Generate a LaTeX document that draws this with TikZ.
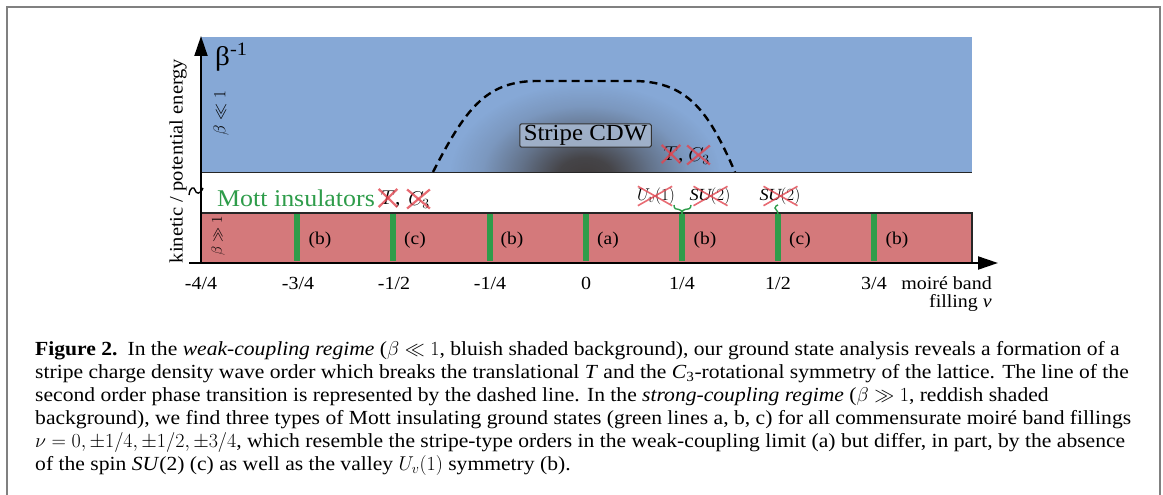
\documentclass[tikz,border=0pt]{standalone}
\usepackage{fix-cm}
\usepackage{fontspec}
\setmainfont{Liberation Serif}[FakeStretch=1.08]
\usetikzlibrary{arrows.meta,fadings}
\definecolor{bgblue}{RGB}{134,168,214}
\definecolor{bgred}{RGB}{212,121,123}
\definecolor{mgreen}{RGB}{46,156,74}
\definecolor{xred}{RGB}{226,70,80}
\definecolor{framegray}{RGB}{128,128,128}
\definecolor{cdwfill}{RGB}{165,182,206}
\definecolor{blobdark}{RGB}{64,60,60}
\pgfdeclareradialshading{blobmask}{\pgfpointorigin}{%
  color(0bp)=(pgftransparent!0);
  color(5bp)=(pgftransparent!8);
  color(12bp)=(pgftransparent!50);
  color(19bp)=(pgftransparent!85);
  color(25bp)=(pgftransparent!100);
  color(50bp)=(pgftransparent!100)}
\pgfdeclarefading{blobfade}{\pgfuseshading{blobmask}}
\tikzset{
  captext/.style={anchor=base west, inner sep=0pt, font=\fontsize{20}{23}\selectfont},
  ticktext/.style={font=\fontsize{18.5}{21}\selectfont, inner sep=0pt},
  plabel/.style={font=\fontsize{18}{20}\selectfont, inner sep=0pt},
  gline/.style={mgreen, line width=6pt},
  xline/.style={xred, line width=2.2pt, opacity=0.8},
  sym/.style={inner sep=0pt, font=\fontsize{20}{24}\selectfont},
  symsm/.style={inner sep=0pt, font=\fontsize{17}{20}\selectfont},
  squig/.style={mgreen, line width=1.4pt},
}
\begin{document}
\begin{tikzpicture}[x=1pt,y=-1pt]
\useasboundingbox (0,0) rectangle (1163,495);
% frame
\draw[framegray, line width=2pt] (7,495) -- (7,7) -- (1160,7) -- (1160,495);
% regions
\fill[bgblue] (201,37) rectangle (972,172);
\begin{scope}
  \clip (201,37) rectangle (972,172);
  \fill[blobdark, path fading=blobfade] (585,176) ellipse [x radius=135, y radius=92];
\end{scope}
\draw[black!85, line width=1.2pt] (201,172.5) -- (972,172.5);
\fill[bgred] (201,213) rectangle (972,262);
\draw[black!85, line width=1.2pt] (201,213) -- (972,213) -- (972,262);
% dashed transition line
\draw[black, line width=2.4pt, dash pattern=on 8pt off 5pt]
  (433,172) .. controls (465,110) and (485,82) .. (535,81) -- (635,81)
  .. controls (690,82) and (710,115) .. (735,172);
% green lines
\foreach \i/\x in {1/297.2,2/393.4,3/489.6,4/585.8,5/682,6/778.2,7/874.4}{
  \draw[gline] (\x,214) -- (\x,261);
}
% labels in red region
\node[plabel] (lb1) at (320,240) {(b)};
\node[plabel] (lb2) at (415,240) {(c)};
\node[plabel] (lb3) at (512,240) {(b)};
\node[plabel] (lb4) at (608,240) {(a)};
\node[plabel] (lb5) at (705,240) {(b)};
\node[plabel] (lb6) at (800,240) {(c)};
\node[plabel] (lb7) at (897,240) {(b)};
% axes
\coordinate (yo) at (201,263);
\coordinate (ytop) at (201,36);
\coordinate (xo) at (189,263);
\coordinate (xend) at (998,263);
\draw[line width=2pt, -{Triangle[length=20pt,width=13pt]}] (yo) -- (ytop);
\draw[line width=2pt, -{Triangle[length=20pt,width=13pt]}] (xo) -- (xend);
% axis break squiggle
\draw[black, line width=1.4pt] (189,195) .. controls (190,187) and (194,186) .. (195,190)
  .. controls (196,194) and (200,195) .. (203,188);
% tick labels
\node[ticktext] (t0) at (201,283) {-4/4};
\node[ticktext] (t1) at (298,283) {-3/4};
\node[ticktext] (t2) at (394,283) {-1/2};
\node[ticktext] (t3) at (490,283) {-1/4};
\node[ticktext] (t4) at (586,283) {0};
\node[ticktext] (t5) at (682,283) {1/4};
\node[ticktext] (t6) at (778,283) {1/2};
\node[ticktext] (t7) at (874,283) {3/4};
\node[ticktext, anchor=east] (xl1) at (992,283) {moiré band};
\node[ticktext, anchor=east] (xl2) at (992,303) {filling \textit{ν}};
% y labels
\node[ticktext, rotate=90, font=\fontsize{19}{22}\selectfont] (ylab) at (178,161) {kinetic / potential energy};
\node[inner sep=0pt, anchor=west, font=\fontsize{27}{30}\selectfont] (binv) at (215,57) {β\textsuperscript{-1}};
\node[symsm, rotate=90] (bweak) at (221,113) {$\beta\ll1$};
\node[symsm, rotate=90, font=\fontsize{15}{18}\selectfont] (bstrong) at (218,236) {$\beta\gg1$};
% Stripe CDW
\node[draw=black!80, line width=1pt, fill=cdwfill, fill opacity=0.9, text opacity=1, rounded corners=1.5pt,
  inner xsep=4pt, inner ysep=1.5pt, font=\fontsize{23}{26}\selectfont] (cdw) at (585.5,135.5) {Stripe CDW};
\node[sym] (cT) at (671,154) {$T$};
\node[sym, anchor=base west] (cc) at (678,160) {,};
\node[sym] (cC) at (699,156) {$C_3$};
\draw[xline] ([shift={(-2,-2)}]cT.north west) -- ([shift={(2,2)}]cT.south east);
\draw[xline] ([shift={(2,-2)}]cT.north east) -- ([shift={(-2,2)}]cT.south west);
\draw[xline] ([shift={(-1,-2)}]cC.north west) -- ([shift={(0,0)}]cC.south east);
\draw[xline] ([shift={(0,-2)}]cC.north east) -- ([shift={(-1,0)}]cC.south west);
% Mott insulators
\node[inner sep=0pt, anchor=west, text=mgreen, font=\fontsize{24}{28}\selectfont] (mott) at (217,198) {Mott insulators};
\node[sym] (mT) at (388,198) {$T$};
\node[sym, anchor=base west] (mc) at (395,204) {,};
\node[sym] (mC) at (419,200) {$C_3$};
\draw[xline] ([shift={(-2,-2)}]mT.north west) -- ([shift={(2,2)}]mT.south east);
\draw[xline] ([shift={(2,-2)}]mT.north east) -- ([shift={(-2,2)}]mT.south west);
\draw[xline] ([shift={(-1,-2)}]mC.north west) -- ([shift={(0,0)}]mC.south east);
\draw[xline] ([shift={(0,-2)}]mC.north east) -- ([shift={(-1,0)}]mC.south west);
% broken symmetries at 1/4 and 1/2
\node[symsm] (uv) at (656,196) {$U_v(1)$};
\node[symsm] (su1) at (710,196) {$\mathit{SU}(2)$};
\node[symsm] (su2) at (780,196) {$\mathit{SU}(2)$};
\draw[xline, line width=1.6pt] ([shift={(1,-1)}]uv.north west) -- ([shift={(-3,1)}]uv.south east);
\draw[xline, line width=1.6pt] ([shift={(-3,-1)}]uv.north east) -- ([shift={(1,1)}]uv.south west);
\draw[xline, line width=1.6pt] ([shift={(4,-1)}]su1.north west) -- ([shift={(-3,1)}]su1.south east);
\draw[xline, line width=1.6pt] ([shift={(-3,-1)}]su1.north east) -- ([shift={(4,1)}]su1.south west);
\draw[xline, line width=1.6pt] ([shift={(4,-1)}]su2.north west) -- ([shift={(-3,1)}]su2.south east);
\draw[xline, line width=1.6pt] ([shift={(-3,-1)}]su2.north east) -- ([shift={(4,1)}]su2.south west);
% green squiggles
\draw[squig] (674,205) .. controls (674,209) and (676,209.5) .. (679,209.5)
  .. controls (681,209.5) and (682,211) .. (682,214);
\draw[squig] (691,205) .. controls (691,209) and (688,209.5) .. (685,209.5)
  .. controls (683,209.5) and (682,211) .. (682,214);
\draw[squig] (778,214) .. controls (778,210) and (775,210) .. (775,208)
  .. controls (775,206) and (777,205.5) .. (778,205);
% caption
\node[captext] (l1) at (35,355) {\textbf{Figure 2.}\enspace In the \textit{weak-coupling regime} ($\beta\ll 1$, bluish shaded background), our ground state analysis reveals a formation of a};
\node[captext] (l2) at (35,378) {stripe charge density wave order which breaks the translational \textit{T} and the \textit{C}\textsubscript{3}-rotational symmetry of the lattice. The line of the};
\node[captext] (l3) at (35,401) {second order phase transition is represented by the dashed line. In the \textit{strong-coupling regime} ($\beta\gg 1$, reddish shaded};
\node[captext] (l4) at (35,424) {background), we find three types of Mott insulating ground states (green lines a, b, c) for all commensurate moiré band fillings};
\node[captext] (l5) at (35,447) {$\nu=0,\pm1/4,\pm1/2,\pm3/4$, which resemble the stripe-type orders in the weak-coupling limit (a) but differ, in part, by the absence};
\node[captext] (l6) at (35,470) {of the spin \textit{SU}(2) (c) as well as the valley $U_v(1)$ symmetry (b).};
\end{tikzpicture}
\end{document}
